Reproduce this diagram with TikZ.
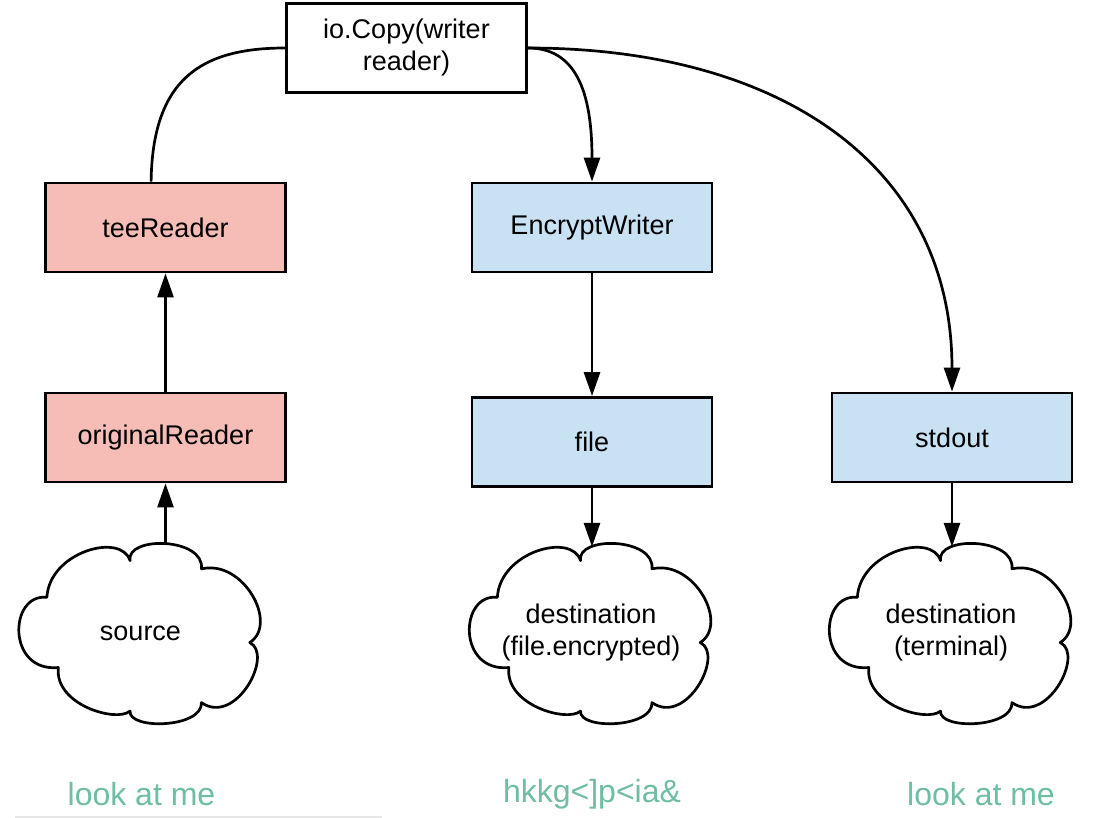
\documentclass[tikz,border=0pt]{standalone}
\usepackage{fontspec}
\setmainfont{Liberation Sans}
\usetikzlibrary{arrows.meta}
\definecolor{pinkfill}{RGB}{245,189,182}
\definecolor{bluefill}{RGB}{200,226,244}
\definecolor{greentext}{RGB}{110,189,164}
\definecolor{rulegray}{RGB}{230,230,230}
\newcommand\cloudpath[1]{%
 \draw[cloudline, shift={(#1.north west)}, x={(239pt,0pt)}, y={(0pt,-180pt)}]
 (0.109,0.303) .. controls (0.12,0.05) and (0.42,-0.06) .. (0.457,0.099)
 .. controls (0.44,-0.04) and (0.77,-0.03) .. (0.756,0.145)
 .. controls (0.93,0.09) and (1.08,0.45) .. (0.958,0.554)
 .. controls (1.06,0.62) and (0.90,1.02) .. (0.756,0.888)
 .. controls (0.76,1.03) and (0.45,1.04) .. (0.457,0.935)
 .. controls (0.40,1.0) and (0.14,0.90) .. (0.157,0.693)
 .. controls (-0.06,0.72) and (-0.05,0.28) .. cycle;}
\tikzset{
 box/.style={draw, line width=2.8pt, minimum width=240pt, minimum height=89pt,
   inner sep=0pt, align=center, font=\fontsize{27}{32}\selectfont},
 redbox/.style={box, fill=pinkfill},
 bluebox/.style={box, fill=bluefill},
 cloudnode/.style={minimum width=239pt, minimum height=180pt, inner sep=0pt,
   align=center, font=\fontsize{27}{32}\selectfont},
 cloudline/.style={line width=2.7pt, line join=round},
 conn/.style={line width=2.7pt},
 arrow/.style={conn, -{Triangle[length=24pt,width=16pt]}},
 greenlbl/.style={text=greentext, font=\fontsize{32}{38}\selectfont, inner sep=0pt},
}
\begin{document}
\begin{tikzpicture}[x=1pt, y=-1pt]
\useasboundingbox[fill=white] (0,0) rectangle (1103,818);
% boxes
\node[box, fill=white] (io) at (406.5,48) {io.Copy(writer\\reader)};
\node[redbox] (tee) at (165.5,227.5) {teeReader};
\node[redbox] (orig) at (165.5,437.5) {originalReader};
\node[bluebox] (enc) at (592,227.5) {EncryptWriter};
\node[bluebox] (file) at (592,442) {file};
\node[bluebox] (stdout) at (952,437.5) {stdout};
% clouds
\node[cloudnode] (src) at (140.5,633) {source};
\node[cloudnode] (dstA) at (591,633) {destination\\(file.encrypted)};
\node[cloudnode] (dstB) at (951,633) {destination\\(terminal)};
\cloudpath{src}
\cloudpath{dstA}
\cloudpath{dstB}
% connectors
\draw[conn] (io.west) .. controls (200,48) and (152.5,80) .. ([xshift=107pt]tee.north west);
\draw[arrow] (io.east) .. controls (575,48) and (592,90) .. (enc.north);
\draw[arrow] (io.east) .. controls (780,48) and (952,165) .. (stdout.north);
\draw[arrow] (orig.north) -- (tee.south);
\draw[arrow] (src.north -| orig.south) -- (orig.south);
\draw[arrow] (enc.south) -- (file.north);
\draw[arrow] (file.south) -- ([yshift=-4pt]dstA.north -| file.south);
\draw[arrow] (stdout.south) -- ([yshift=-4pt]dstB.north -| stdout.south);
% labels
\node[greenlbl] (lk1) at (141.5,794) {look at me};
\node[greenlbl] (lk2) at (592,794) {hkkg<]p<ia\&};
\node[greenlbl] (lk3) at (981,794) {look at me};
\draw[rulegray, line width=1.5pt] (15,817) -- (382,817);
\end{tikzpicture}
\end{document}
